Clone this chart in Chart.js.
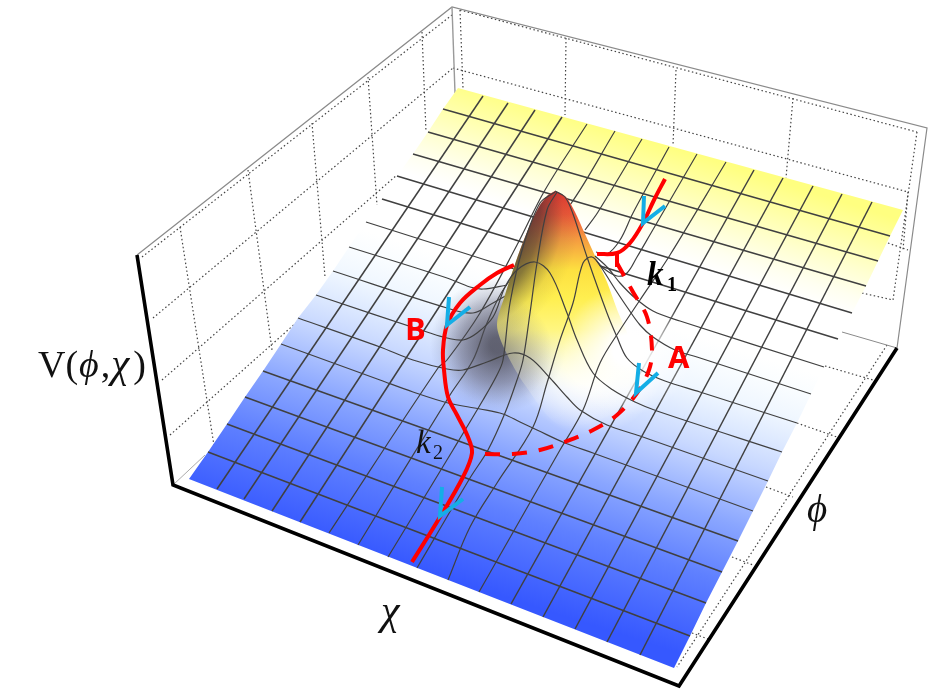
<!DOCTYPE html>
<html>
<head>
<meta charset="utf-8">
<script src="https://cdn.jsdelivr.net/npm/chart.js@4/dist/chart.umd.js"></script>
<style>
    body { margin: 0; background: #fff; }
    canvas { display: block; }
</style>
</head>
<body>
<canvas id="surfaceChart" width="945" height="691"></canvas>
<script>

// Mesh ends, flat part of the surface
const rowLeft = [[443,109],[428,132],[413,154],[397,176],[382,199],[366,222],[349,247],[333,271],[316,295],[298,318],[281,344],[263,371],[245,397],[227,424],[208,452]];
const rowRight = [[890,236],[878,261],[866,286],[852,313],[838,339],[824,367],[811,394],[797,423],[782,452],[768,481],[753,511],[738,541],[722,572],[706,603],[690,636]];
const colBottom = [[217,489],[244,499],[272,511],[300,522],[329,533],[358,545],[388,557],[417,568],[448,580],[479,592],[511,604],[543,617],[575,629],[607,642],[640,655]];
const colTop = [[483,96],[508,103],[535,110],[562,117],[587,124],[615,131],[642,139],[669,147],[697,154],[726,162],[754,170],[783,178],[813,186],[842,194],[872,202]];

// Surface outline
const surfaceEdge = [[458,88],[443,109],[428,132],[413,154],[397,176],[382,199],[366,222],[349,247],[333,271],[316,295],[298,318],[281,344],[263,371],[245,397],[227,424],[208,452],[189,479],[674,668],[690,636],[706,603],[722,572],[738,541],[753,511],[768,481],[782,452],[797,423],[811,394],[824,367],[838,339],[852,313],[866,286],[878,261],[890,236],[903,210]];

// Mesh lines bent by the peak, behind it
const row6Back = [[366,222],[514,269]];
const row7Back = [[349,247],[447,278],[470,287],[483,289],[507,285]];
const row8Back = [[333,271],[447,308],[473,313],[493,303],[507,295]];
const col5Line = [[329,533],[438,368],[447,360],[480,313],[517,245],[545,190],[587,124]];
const col6Line = [[358,545],[450,395],[473,360],[487,323],[505,287],[570,205],[615,131]];
const col7Back = [[585,230],[598,212],[642,139]];
const col8Back = [[596,252],[607,254],[620,240],[633,213],[669,147]];

// Mesh lines bent by the peak, in front of it
const row6Front = [[595,256],[608,268],[620,283],[635,298],[653,311],[680,321],[824,367]];
const row7Front = [[596,260],[603,270],[615,289],[627,307],[640,325],[653,337],[675,350],[697,357],[811,394]];
const row8Front = [[555,191],[565,197],[573,214],[587,257],[607,313],[617,337],[627,358],[643,371],[665,381],[700,392],[797,423]];
const row9Line = [[316,295],[430,333],[447,338],[463,340],[477,333],[493,317],[505,287],[517,270],[535,262],[550,273],[567,313],[577,340],[593,373],[613,390],[635,402],[657,411],[782,452]];
const row10Line = [[298,318],[380,347],[413,360],[447,369],[463,370],[487,362],[513,353],[530,358],[550,378],[567,397],[580,410],[607,425],[640,436],[768,481]];
const row11Line = [[281,344],[380,380],[413,392],[448,403],[480,409],[503,414],[520,422],[537,430],[565,443],[593,453],[753,511]];
const col7Front = [[388,557],[453,450],[483,400],[497,375],[503,360],[510,303],[523,247],[540,203],[555,192]];
const col8Front = [[417,568],[470,478],[488,450],[505,413],[517,380],[523,360],[530,313],[537,263],[547,210],[557,192]];
const col9Line = [[448,580],[470,527],[497,483],[533,427],[547,383],[560,340],[573,303],[583,263],[592,257],[603,268],[617,276],[627,273],[637,257],[651,233],[697,154]];
const col10Line = [[479,592],[560,450],[583,410],[600,363],[620,330],[640,300],[670,255],[726,162]];

// Peak outline and the soft patches around it
const peakEdge = [[555,191],[566,197],[575,212],[585,234],[596,258],[607,282],[618,312],[632,345],[640,380],[610,415],[560,425],[525,385],[505,350],[497,325],[505,295],[512,273],[520,250],[530,225],[540,205],[548,195]];
const shadowBlob = [[498,255],[578,300],[578,390],[498,435],[418,390],[418,300]];
const shadowTop = [[497,270],[570,310],[570,390],[497,430],[425,390],[425,310]];
const glowBlob = [[590,275],[665,315],[675,405],[590,445],[505,405],[505,315]];
const glowRight = [[628,270],[700,310],[700,390],[628,430],[555,390],[555,310]];

// Box
const boxThin = [[137,255],[452,7],[927,128],[897,348]];
const boxBack = [[452,7],[455,93]];
const boxCorner = [[173,485],[205,455]];
const boxStub = [[842,332],[897,348]];
const boxAxes = [[137,255],[173,485],[679,686],[897,348]];
const boxDotted = [
    [[142,257],[452,15]], [[153,318],[453,68]], [[162,380],[397,175]], [[170,435],[297,322]],
    [[180,227],[215,452]], [[248,170],[272,350]], [[312,123],[325,277]], [[368,77],[377,205]], [[422,32],[426,132]], [[460,10],[463,88]],
    [[460,10],[917,132]], [[453,68],[908,192]], [[566,38],[565,115]], [[676,70],[673,145]], [[793,98],[786,178]],
    [[917,132],[893,300]], [[887,345],[677,667]], [[908,192],[903,250]], [[888,243],[908,250]], [[862,293],[893,300]],
    [[825,366],[873,380]], [[797,423],[837,437]], [[766,487],[793,497]], [[732,557],[753,565]], [[692,633],[708,639]]
];

// Red paths and arrow heads
const pathInTop = [[665,179],[654,200],[643,223],[630,243],[617,253],[597,254]];
const pathBranch = [[617,253],[617,267]];
const pathA = [[485,454],[513,454],[540,450],[567,441],[593,430],[617,415],[637,393],[649,370],[652,350],[647,317],[633,292],[617,263]];
const pathB = [[412,562],[440,517],[463,477],[472,453],[468,437],[457,415],[448,397],[444,370],[443,350],[447,325],[460,303],[480,285],[497,273],[514,265]];
const arrowHeads = [
    [[644,196],[643,223],[665,206]],
    [[449,297],[447,325],[470,307]],
    [[639,363],[636,393],[658,373]],
    [[442,487],[440,516],[463,499]]
];

const canvas = document.getElementById('surfaceChart');
const ctx = canvas.getContext('2d');

// Surface colour runs across the mesh rows
const surfaceFill = ctx.createLinearGradient(432, 574, 578, 117);
surfaceFill.addColorStop(0, '#3658ff');
surfaceFill.addColorStop(0.17, '#5f80ff');
surfaceFill.addColorStop(0.29, '#8aa6ff');
surfaceFill.addColorStop(0.42, '#c8d8ff');
surfaceFill.addColorStop(0.48, '#dde9ff');
surfaceFill.addColorStop(0.54, '#f0f7ff');
surfaceFill.addColorStop(0.6, '#fafdff');
surfaceFill.addColorStop(0.64, '#ffffff');
surfaceFill.addColorStop(0.78, '#ffffff');
surfaceFill.addColorStop(0.82, '#fffff0');
surfaceFill.addColorStop(0.875, '#ffffd0');
surfaceFill.addColorStop(1, '#ffff80');

const peakFill = ctx.createLinearGradient(0, 191, 0, 430);
peakFill.addColorStop(0, '#e83a30');
peakFill.addColorStop(0.1, '#f05a38');
peakFill.addColorStop(0.2, '#f59a40');
peakFill.addColorStop(0.33, '#fde040');
peakFill.addColorStop(0.45, '#ffef50');
peakFill.addColorStop(0.58, '#fff680');
peakFill.addColorStop(0.71, 'rgba(255,252,190,0.6)');
peakFill.addColorStop(0.83, 'rgba(255,255,240,0.2)');
peakFill.addColorStop(1, 'rgba(255,255,255,0)');

const peakDark = ctx.createRadialGradient(440, 215, 85, 440, 215, 140);
peakDark.addColorStop(0, 'rgba(40,35,50,0.7)');
peakDark.addColorStop(0.27, 'rgba(40,35,50,0.55)');
peakDark.addColorStop(0.47, 'rgba(40,35,50,0.3)');
peakDark.addColorStop(0.69, 'rgba(40,35,50,0.08)');
peakDark.addColorStop(1, 'rgba(40,35,50,0)');

const shadowFill = ctx.createRadialGradient(498, 345, 8, 498, 345, 68);
shadowFill.addColorStop(0, 'rgba(70,70,85,0.8)');
shadowFill.addColorStop(0.5, 'rgba(90,90,115,0.45)');
shadowFill.addColorStop(1, 'rgba(120,130,170,0)');

const shadowTopFill = ctx.createRadialGradient(497, 350, 5, 497, 350, 55);
shadowTopFill.addColorStop(0, 'rgba(90,90,105,0.45)');
shadowTopFill.addColorStop(1, 'rgba(100,100,125,0)');

const glowFill = ctx.createRadialGradient(590, 360, 25, 590, 360, 75);
glowFill.addColorStop(0, 'rgba(255,255,255,1)');
glowFill.addColorStop(1, 'rgba(255,255,255,0)');

const glowRightFill = ctx.createRadialGradient(628, 350, 15, 628, 350, 65);
glowRightFill.addColorStop(0, 'rgba(255,255,255,1)');
glowRightFill.addColorStop(1, 'rgba(255,255,255,0)');

function pts(list) {
    return list.map(p => ({ x: p[0], y: p[1] }));
}

function meshLine(list, bent) {
    return {
        data: pts(list),
        borderColor: '#404040',
        borderWidth: bent ? 1.2 : 1.5,
        tension: bent ? 0.35 : 0,
        pointRadius: 0,
        fill: false
    };
}

function patch(list, color, tension) {
    return {
        data: pts(list),
        borderWidth: 0,
        borderColor: 'rgba(0,0,0,0)',
        backgroundColor: color,
        tension: tension,
        pointRadius: 0,
        fill: 'shape'
    };
}

function stroke(list, color, width, tension, dash) {
    return {
        data: pts(list),
        borderColor: color,
        borderWidth: width,
        tension: tension || 0,
        borderDash: dash || [],
        pointRadius: 0,
        fill: false
    };
}

// Painted in this order, back to front
const layers = [];
boxDotted.forEach(d => layers.push(stroke(d, '#444444', 1.2, 0, [1.5, 2.5])));
layers.push(stroke(boxThin, '#8a8a8a', 1.2));
layers.push(stroke(boxBack, '#9a9a9a', 1.4));
layers.push(stroke(boxCorner, '#aaaaaa', 1));
layers.push(stroke(boxStub, '#8a8a8a', 1));
layers.push(stroke(boxAxes, '#000000', 3.6));

layers.push(patch(surfaceEdge, surfaceFill, 0));
layers.push(patch(glowBlob, glowFill, 0.4));
layers.push(patch(shadowBlob, shadowFill, 0.4));

for (let r = 0; r < 5; r++) layers.push(meshLine([rowLeft[r], rowRight[r]]));
for (let r = 11; r < 15; r++) layers.push(meshLine([rowLeft[r], rowRight[r]]));
[0, 1, 2, 3, 10, 11, 12, 13, 14].forEach(c => layers.push(meshLine([colBottom[c], colTop[c]])));
[row6Back, row7Back, row8Back, col5Line, col6Line, col7Back, col8Back].forEach(l => layers.push(meshLine(l, true)));

layers.push(patch(peakEdge, peakFill, 0.3));
layers.push(patch(peakEdge, peakDark, 0.3));
layers.push(patch(glowRight, glowRightFill, 0.4));
layers.push(patch(shadowTop, shadowTopFill, 0.4));

[row6Front, row7Front, row8Front, row9Line, row10Line, row11Line, col7Front, col8Front, col9Line, col10Line].forEach(l => layers.push(meshLine(l, true)));

layers.push(stroke(pathInTop, '#ff0000', 4, 0.35));
layers.push(stroke(pathBranch, '#ff0000', 4));
layers.push(stroke(pathA, '#ff0000', 4, 0.35, [15, 12]));
layers.push(stroke(pathB, '#ff0000', 4, 0.35));
arrowHeads.forEach(a => layers.push(stroke(a, '#14aee6', 4)));

// Text pieces: runs are set one after the other from the x given, third item is the gap after the run
const serif = '"Liberation Serif", serif';
const sans = '"Open Sans", sans-serif';
const textRuns = [
    { x: 38, y: 377, color: '#111', runs: [['38px ' + serif, 'V(', 1], ['italic 38px ' + serif, 'ϕ', 2], ['38px ' + serif, ',', 1], ['italic 41px ' + serif, 'χ', 4], ['38px ' + serif, ')', 0]] },
    { x: 381, y: 624, color: '#111', runs: [['italic 42px ' + serif, 'χ', 0]] },
    { x: 807, y: 522, color: '#111', runs: [['italic 39px ' + serif, 'ϕ', 0]] },
    { x: 405, y: 340, color: '#ff0000', runs: [['bold 31px ' + sans, 'B', 0]] },
    { x: 668, y: 368, color: '#ff0000', runs: [['bold 31px ' + sans, 'A', 0]] },
    { x: 647, y: 285, color: '#000', runs: [['bold italic 33px ' + serif, 'k', 0]] },
    { x: 667, y: 291, color: '#000', runs: [['bold 20px ' + serif, '1', 0]] },
    { x: 416, y: 453, color: '#111', runs: [['italic 33px ' + serif, 'k', 0]] },
    { x: 433, y: 459, color: '#111', runs: [['20px ' + serif, '2', 0]] }
];

const textPlugin = {
    id: 'textPieces',
    afterDatasetsDraw(chart) {
        const c = chart.ctx;
        c.save();
        c.textBaseline = 'alphabetic';
        textRuns.forEach(t => {
            let px = chart.scales.x.getPixelForValue(t.x);
            const py = chart.scales.y.getPixelForValue(t.y);
            c.fillStyle = t.color;
            t.runs.forEach(run => {
                c.font = run[0];
                c.fillText(run[1], px, py);
                px += c.measureText(run[1]).width + run[2];
            });
        });
        c.restore();
    }
};

// Chart.js paints the first dataset last, so hand them over reversed
new Chart(ctx, {
    type: 'line',
    data: { datasets: layers.slice().reverse() },
    options: {
        responsive: false,
        animation: false,
        parsing: false,
        normalized: false,
        layout: { padding: 0 },
        plugins: {
            legend: { display: false },
            tooltip: { enabled: false },
            title: { display: false }
        },
        scales: {
            x: { type: 'linear', min: 0, max: 945, display: false },
            y: { type: 'linear', min: 0, max: 691, reverse: true, display: false }
        }
    },
    plugins: [textPlugin]
});
</script>
</body>
</html>
